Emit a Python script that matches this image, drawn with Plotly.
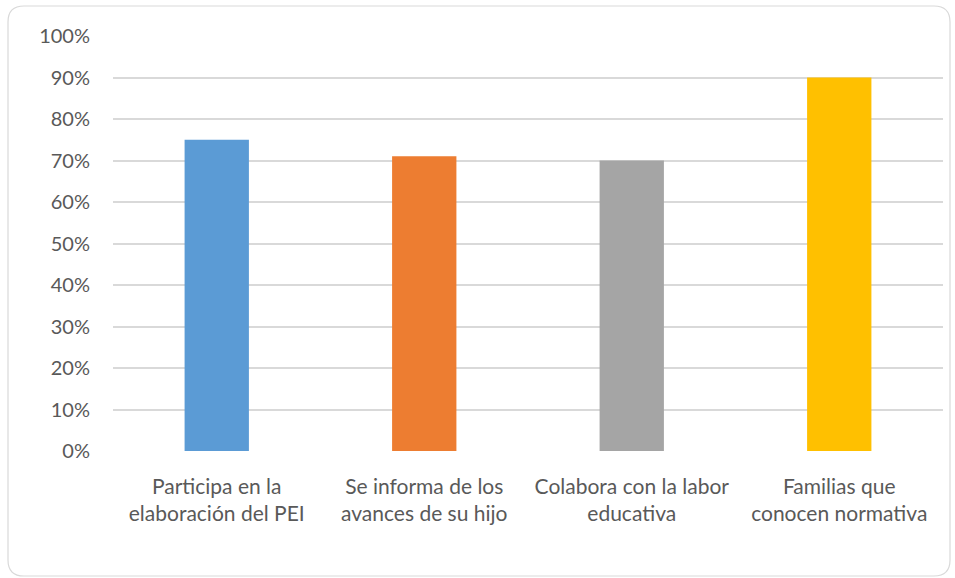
import plotly.graph_objects as go

categories = ["Participa en la<br>elaboración del PEI", "Se informa de los<br>avances de su hijo",
              "Colabora con la labor<br>educativa", "Familias que<br>conocen normativa"]
values = [0.75, 0.71, 0.70, 0.90]
colors = ["#5B9BD5", "#ED7D31", "#A5A5A5", "#FFC000"]
y_ticks = [i / 10 for i in range(11)]

fig = go.Figure(go.Bar(x=categories, y=values, marker=dict(color=colors, line=dict(width=0)),
                       width=0.31))

W, H = 955, 578
L, R, T, B = 113, 12, 36, 127
fig.update_layout(
    width=W, height=H,
    margin=dict(l=L, r=R, t=T, b=B),
    paper_bgcolor="white", plot_bgcolor="white",
    font=dict(family="Lato, 'Open Sans', sans-serif", size=20, color="#595959"),
    showlegend=False,
    xaxis=dict(showgrid=False, showline=False, ticks="", tickfont=dict(size=21),
               ticklabelstandoff=21),
    yaxis=dict(range=[0, 1.0], tickvals=y_ticks, tickformat=".0%", showgrid=True,
               gridcolor="#D9D9D9", gridwidth=1.5, zeroline=False, showline=False,
               ticks="", ticklabelstandoff=22, tickfont=dict(size=20)),
)

# rounded border in pixel coords converted to paper coords
pw = W - L - R
ph = H - T - B
def px(x):
    return (x - L) / pw
def py(y):
    return 1 - (y - T) / ph
x0, x1, y0, y1, r = 8, 950, 6, 576, 16
path = (f"M {px(x0+r)},{py(y0)} L {px(x1-r)},{py(y0)} "
        f"Q {px(x1)},{py(y0)} {px(x1)},{py(y0+r)} L {px(x1)},{py(y1-r)} "
        f"Q {px(x1)},{py(y1)} {px(x1-r)},{py(y1)} L {px(x0+r)},{py(y1)} "
        f"Q {px(x0)},{py(y1)} {px(x0)},{py(y1-r)} L {px(x0)},{py(y0+r)} "
        f"Q {px(x0)},{py(y0)} {px(x0+r)},{py(y0)} Z")
fig.add_shape(type="path", xref="paper", yref="paper", path=path,
              line=dict(color="#D9D9D9", width=1.2), layer="below")

fig.write_html("out.html", config={"displayModeBar": False},
               post_script="document.body.style.margin='0';document.body.style.overflow='hidden';")
